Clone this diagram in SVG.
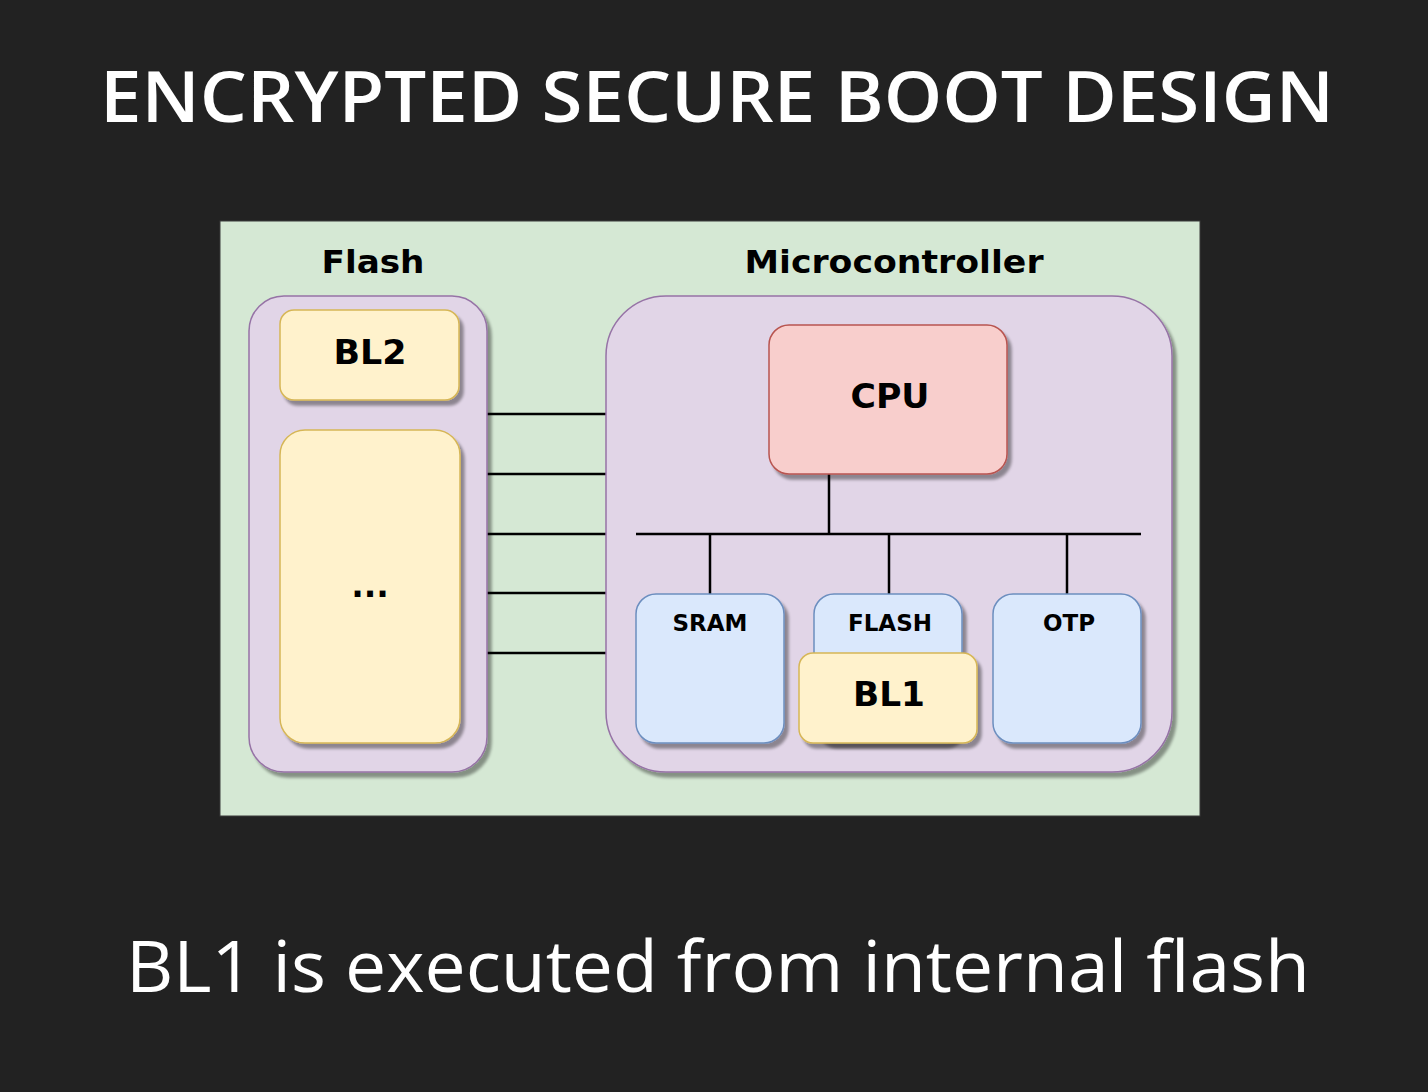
<svg xmlns="http://www.w3.org/2000/svg" width="1428" height="1092" viewBox="0 0 1428 1092">
<defs>
<filter id="sh" x="-10%" y="-10%" width="130%" height="130%">
<feGaussianBlur in="SourceAlpha" stdDeviation="1.5"/>
<feOffset dx="4" dy="5" result="o"/>
<feComponentTransfer><feFuncA type="linear" slope="0.38"/></feComponentTransfer>
<feMerge><feMergeNode/><feMergeNode in="SourceGraphic"/></feMerge>
</filter>
</defs>
<style>
.lbl{font-family:"DejaVu Sans",Verdana,sans-serif;font-weight:bold;fill:#000;text-anchor:middle}
.purple{fill:#e1d5e7;stroke:#9673a6;stroke-width:1.5}
.yellow{fill:#fff2cc;stroke:#d6b656;stroke-width:1.5}
.red{fill:#f8cecc;stroke:#b85450;stroke-width:1.5}
.blue{fill:#dae8fc;stroke:#6c8ebf;stroke-width:1.5}
.wire{stroke:#000;stroke-width:2.5;fill:none}
</style>
<rect width="1428" height="1092" fill="#222222"/>
<text x="717" y="122" font-family="'Open Sans',sans-serif" font-weight="600" font-size="70" fill="#ffffff" text-anchor="middle" textLength="1234" lengthAdjust="spacingAndGlyphs">ENCRYPTED SECURE BOOT DESIGN</text>
<rect x="220" y="221" width="980" height="595" fill="#d5e8d4" stroke="#3a3a3a" stroke-width="1"/>
<text class="lbl" x="373" y="273" font-size="32" textLength="103" lengthAdjust="spacingAndGlyphs">Flash</text>
<text class="lbl" x="894" y="273" font-size="32" textLength="299" lengthAdjust="spacingAndGlyphs">Microcontroller</text>
<g id="connectors">
<line class="wire" x1="487" y1="414" x2="606" y2="414"/>
<line class="wire" x1="487" y1="474" x2="606" y2="474"/>
<line class="wire" x1="487" y1="534" x2="606" y2="534"/>
<line class="wire" x1="487" y1="593" x2="606" y2="593"/>
<line class="wire" x1="487" y1="653" x2="606" y2="653"/>
</g>
<g id="flash">
<rect class="purple" x="249" y="296" width="238" height="476" rx="35" filter="url(#sh)"/>
</g>
<g id="microcontroller">
<rect class="purple" x="606" y="296" width="566" height="476" rx="60" filter="url(#sh)"/>
</g>
<g id="bus">
<line class="wire" x1="829" y1="474" x2="829" y2="534"/>
<line class="wire" x1="636" y1="534" x2="1141" y2="534"/>
<line class="wire" x1="710" y1="534" x2="710" y2="594"/>
<line class="wire" x1="889" y1="534" x2="889" y2="594"/>
<line class="wire" x1="1067" y1="534" x2="1067" y2="594"/>
</g>
<g id="bl2">
<rect class="yellow" x="280" y="310" width="179" height="90" rx="14" filter="url(#sh)"/>
<text class="lbl" x="370" y="364" font-size="33" textLength="73" lengthAdjust="spacingAndGlyphs">BL2</text>
</g>
<g id="dots">
<rect class="yellow" x="280" y="430" width="180" height="313" rx="25" filter="url(#sh)"/>
<text class="lbl" x="370" y="597" font-size="33">...</text>
</g>
<g id="cpu">
<rect class="red" x="769" y="325" width="238" height="149" rx="20" filter="url(#sh)"/>
<text class="lbl" x="890" y="408" font-size="34" textLength="79" lengthAdjust="spacingAndGlyphs">CPU</text>
</g>
<g id="sram">
<rect class="blue" x="636" y="594" width="148" height="149" rx="20" filter="url(#sh)"/>
<text class="lbl" x="710" y="631" font-size="23">SRAM</text>
</g>
<g id="flash-int">
<rect class="blue" x="814" y="594" width="148" height="149" rx="20" filter="url(#sh)"/>
<text class="lbl" x="890" y="631" font-size="23">FLASH</text>
</g>
<g id="otp">
<rect class="blue" x="993" y="594" width="148" height="149" rx="20" filter="url(#sh)"/>
<text class="lbl" x="1069" y="631" font-size="23">OTP</text>
</g>
<g id="bl1">
<rect class="yellow" x="799" y="653" width="178" height="90" rx="14" filter="url(#sh)"/>
<text class="lbl" x="889" y="706" font-size="33" textLength="72" lengthAdjust="spacingAndGlyphs">BL1</text>
</g>
<text x="718" y="992" font-family="'Open Sans',sans-serif" font-weight="400" font-size="72" fill="#ffffff" text-anchor="middle" textLength="1184" lengthAdjust="spacingAndGlyphs">BL1 is executed from internal flash</text>
</svg>
